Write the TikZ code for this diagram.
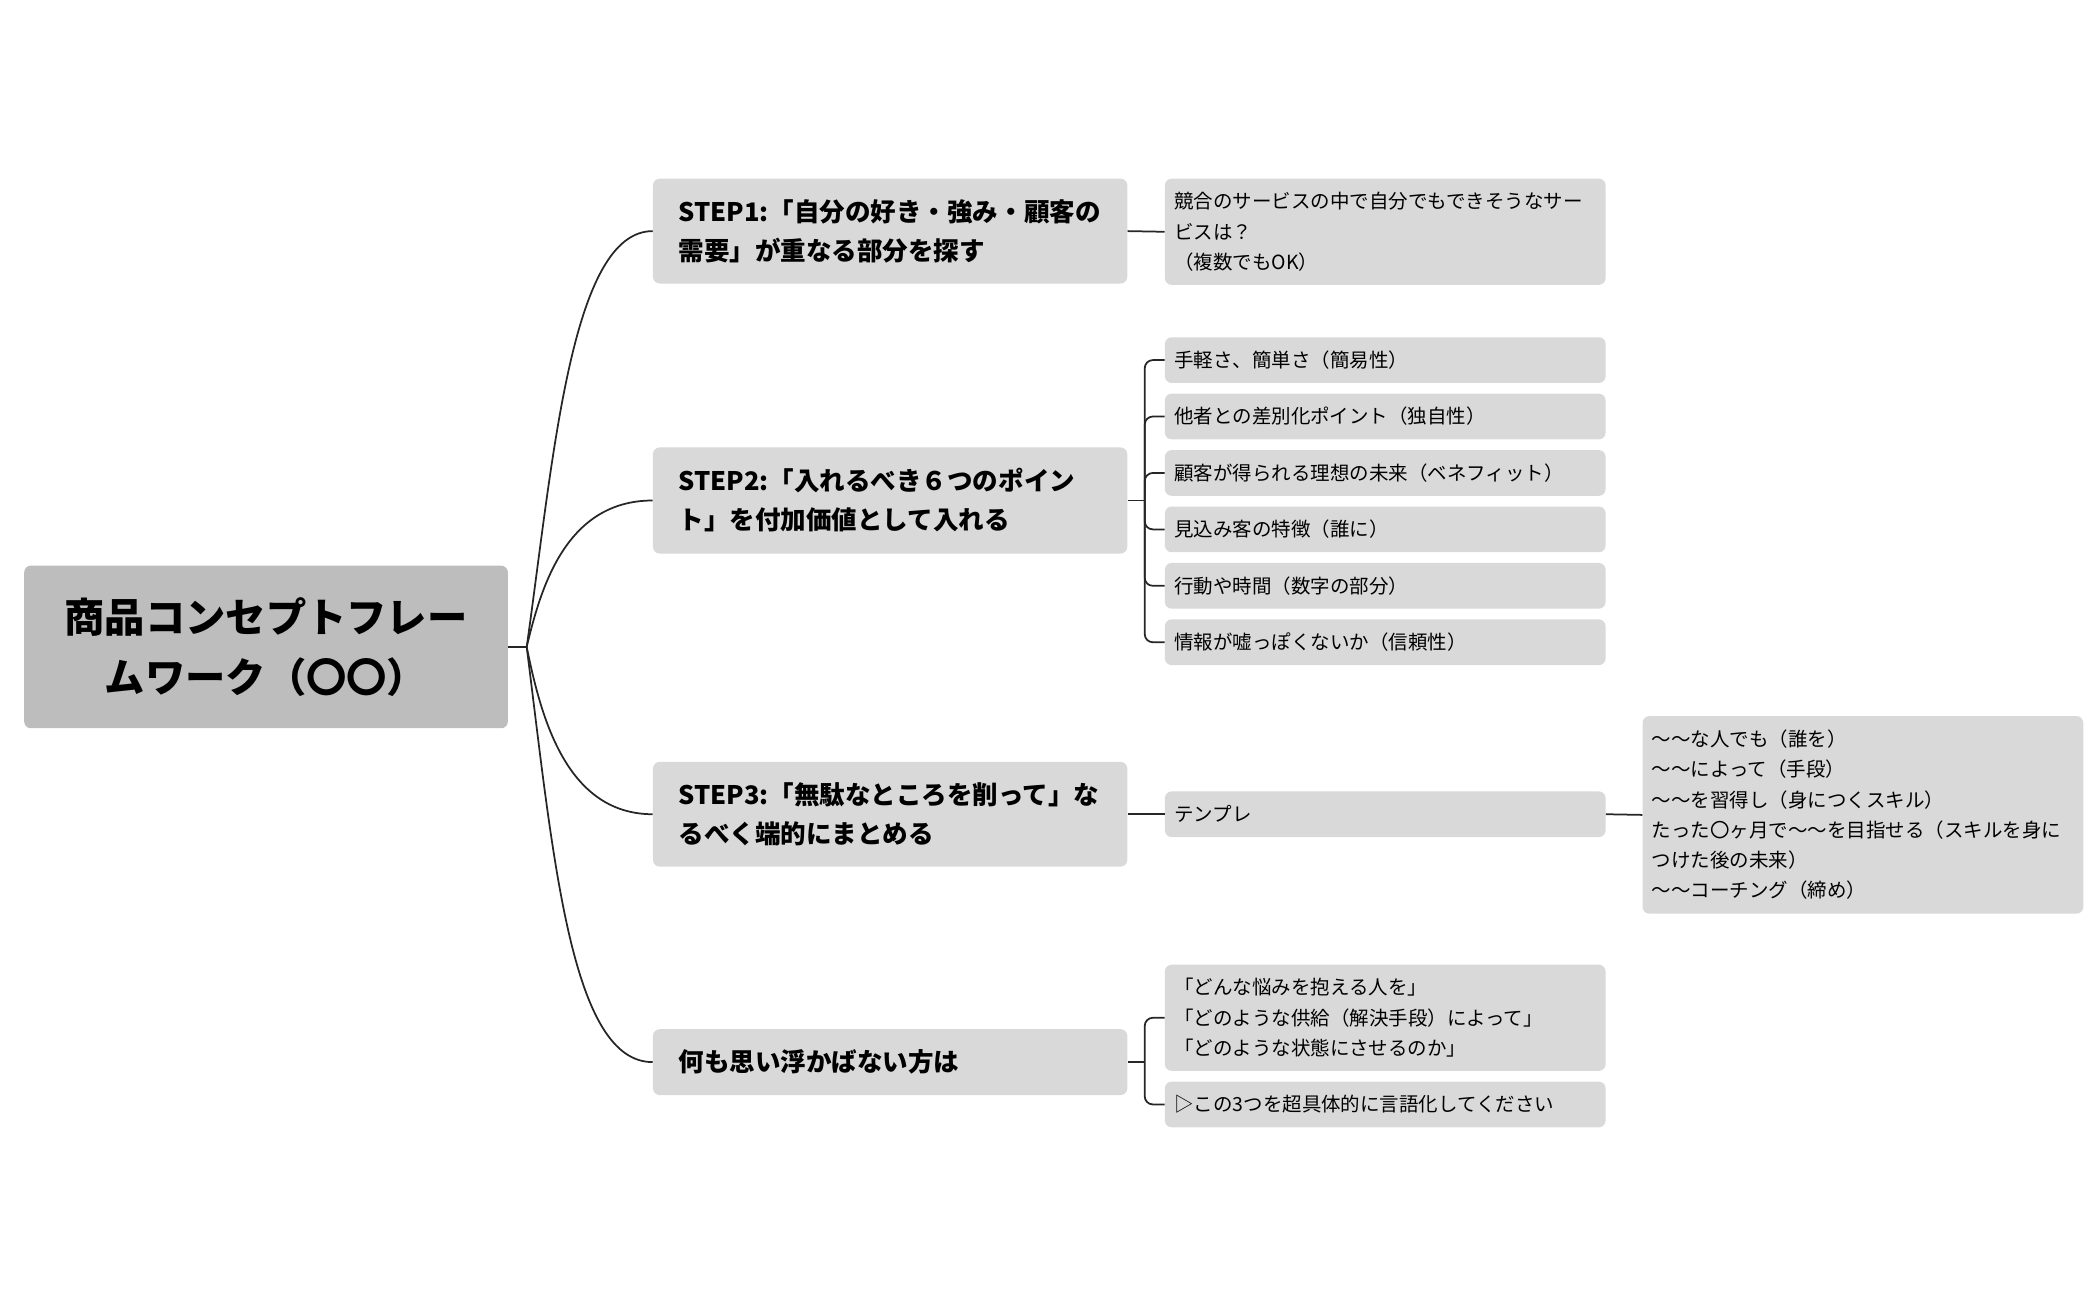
\documentclass[tikz,border=0pt]{standalone}
\usepackage{fontspec}
\setmainfont{Noto Sans CJK JP}
\begin{document}
\begin{tikzpicture}[x=1pt,y=-1pt,
  box/.style={fill=#1,rounded corners=5pt,draw=none,align=left,anchor=center},
  rootbox/.style={box=gray!52,text width=330pt,align=center,minimum height=121pt,inner xsep=15pt,font=\fontsize{30}{45}\selectfont\bfseries},
  stepbox/.style={box=gray!30,text width=315pt,inner xsep=19pt,font=\fontsize{19}{29}\selectfont\bfseries},
  leaf/.style={box=gray!30,text width=314pt,inner xsep=7pt,font=\fontsize{14.5}{22.5}\selectfont},
  conn/.style={draw=black!85,line width=1.3pt}]
\useasboundingbox (0,0) rectangle (1560,967.5);
\node[rootbox] (root) at (198,481.5) {商品コンセプトフレー\\ムワーク（〇〇）};
\coordinate (hub) at (392,481.5);
\node[stepbox,minimum height=78pt] (s1) at (662.5,172) {STEP1:「自分の好き・強み・顧客の\\需要」が重なる部分を探す};
\node[stepbox,minimum height=79pt] (s2) at (662.5,372.5) {STEP2:「入れるべき６つのポイン\\ト」を付加価値として入れる};
\node[stepbox,minimum height=78pt] (s3) at (662.5,606) {STEP3:「無駄なところを削って」な\\るべく端的にまとめる};
\node[stepbox,minimum height=49pt] (s4) at (662.5,790.5) {何も思い浮かばない方は};
\node[leaf,minimum height=79pt] (l1) at (1031,172.5) {競合のサービスの中で自分でもできそうなサー\\ビスは？\\（複数でもOK）};
\node[leaf,minimum height=34pt] (a1) at (1031,268) {手軽さ、簡単さ（簡易性）};
\node[leaf,minimum height=34pt] (a2) at (1031,310) {他者との差別化ポイント（独自性）};
\node[leaf,minimum height=34pt] (a3) at (1031,352) {顧客が得られる理想の未来（ベネフィット）};
\node[leaf,minimum height=34pt] (a4) at (1031,394) {見込み客の特徴（誰に）};
\node[leaf,minimum height=34pt] (a5) at (1031,436) {行動や時間（数字の部分）};
\node[leaf,minimum height=34pt] (a6) at (1031,478) {情報が嘘っぽくないか（信頼性）};
\node[leaf,minimum height=34pt] (t1) at (1031,606) {テンプレ};
\node[leaf,minimum height=147pt] (t2) at (1386.5,606.5) {〜〜な人でも（誰を）\\〜〜によって（手段）\\〜〜を習得し（身につくスキル）\\たった〇ヶ月で〜〜を目指せる（スキルを身に\\つけた後の未来）\\〜〜コーチング（締め）};
\node[leaf,minimum height=79pt] (b1) at (1031,757.5) {「どんな悩みを抱える人を」\\「どのような供給（解決手段）によって」\\「どのような状態にさせるのか」};
\node[leaf,minimum height=34pt] (b2) at (1031,822) {▷この3つを超具体的に言語化してください};
\draw[conn] (root.east|-hub) -- (hub);
\draw[conn] (hub) .. controls (412,340) and (425,172) .. (s1.west);
\draw[conn] (hub) .. controls (402,440) and (420,372.5) .. (s2.west);
\draw[conn] (hub) .. controls (402,530) and (420,606) .. (s3.west);
\draw[conn] (hub) .. controls (412,640) and (425,790.5) .. (s4.west);
\draw[conn] (s1.east) -- (l1.west);
\draw[conn] (s3.east) -- (t1.west);
\draw[conn] (t1.east) -- (t2.west);
\coordinate (j2) at (852,372.5);
\draw[conn] (s2.east) -- (j2);
\foreach \a in {a1,a2,a3,a4,a5,a6}{\draw[conn,rounded corners=6pt] (j2) |- (\a.west);}
\coordinate (j4) at (852,790.5);
\draw[conn] (s4.east) -- (j4);
\foreach \a in {b1,b2}{\draw[conn,rounded corners=6pt] (j4) |- (\a.west);}
\end{tikzpicture}
\end{document}
